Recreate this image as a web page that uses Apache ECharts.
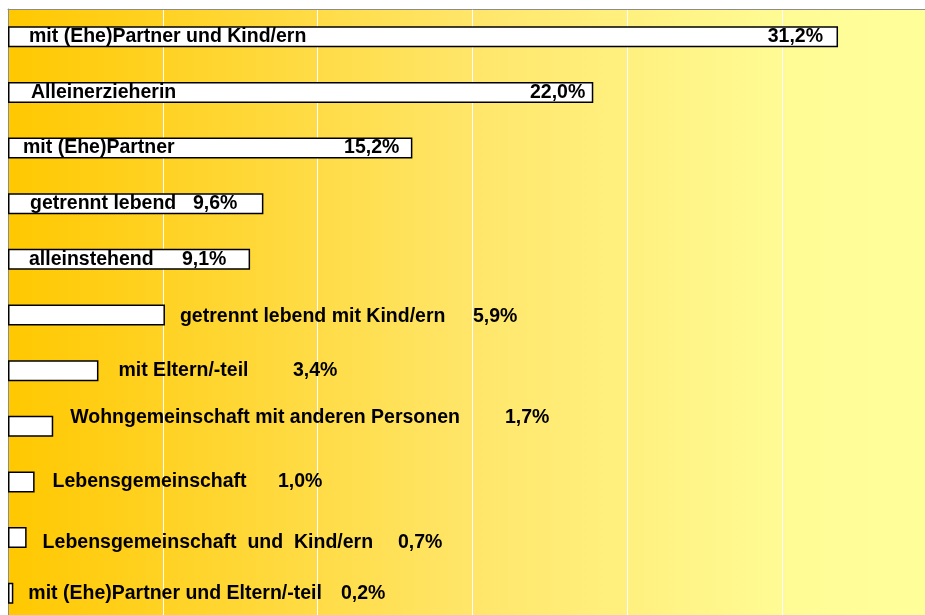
<!DOCTYPE html>
<html><head><meta charset="utf-8">
<script src="https://cdn.jsdelivr.net/npm/echarts@6/dist/echarts.min.js"></script>
<style>html,body{margin:0;padding:0;background:#fff;overflow:hidden;width:925px;height:615px}#c{width:950px;height:630px}</style>
</head><body><div id="c"></div>
<script>
// Data
const categories = [
  'mit (Ehe)Partner und Kind/ern',
  'Alleinerzieherin',
  'mit (Ehe)Partner',
  'getrennt lebend',
  'alleinstehend',
  'getrennt lebend mit Kind/ern',
  'mit Eltern/-teil',
  'Wohngemeinschaft mit anderen Personen',
  'Lebensgemeinschaft',
  'Lebensgemeinschaft  und  Kind/ern',
  'mit (Ehe)Partner und Eltern/-teil'
];
const values = [31.2, 22.0, 15.2, 9.6, 9.1, 5.9, 3.4, 1.7, 1.0, 0.7, 0.2];

// Label layout (styling only)
const nameLayout = [
  {position:'insideLeft', distance:21, dy:0},
  {position:'insideLeft', distance:23, dy:0},
  {position:'insideLeft', distance:15, dy:0},
  {position:'insideLeft', distance:22, dy:0},
  {position:'insideLeft', distance:21, dy:0},
  {position:'right', distance:15, dy:2},
  {position:'right', distance:20, dy:0},
  {position:'right', distance:17, dy:-9},
  {position:'right', distance:18, dy:0},
  {position:'right', distance:16, dy:5},
  {position:'right', distance:15, dy:0}
];
const valueLayout = [
  {position:'insideRight', distance:15, dy:0},
  {position:'insideRight', distance:8, dy:0},
  {position:'insideRight', distance:13, dy:0},
  {x:185, dy:0},
  {x:174, dy:0},
  {x:465, dy:2},
  {x:285, dy:0},
  {x:497, dy:-9},
  {x:270, dy:0},
  {x:390, dy:5},
  {x:333, dy:0}
];

const fmt = v => v.toFixed(1).replace('.', ',') + '%';
const font = {fontFamily:'"Liberation Sans", Arial, sans-serif', fontWeight:'bold', fontSize:19.5, color:'#000'};

const nameData = values.map((v,i)=>({
  value:v,
  label:Object.assign({show:true, formatter:categories[i], position:nameLayout[i].position,
    distance:nameLayout[i].distance, offset:[0,nameLayout[i].dy]}, font)
}));
const valData = values.map((v,i)=>{
  const L = valueLayout[i];
  const lab = Object.assign({show:true, formatter:fmt(v), offset:[0,L.dy]}, font);
  if (L.position) { lab.position = L.position; lab.distance = L.distance; }
  else { lab.position = [L.x, '50%']; lab.align='left'; lab.verticalAlign='middle'; }
  return {value:v, label:lab};
});

const chart = echarts.init(document.getElementById('c'), null, {renderer:'canvas'});
chart.setOption({
  animation:false,
  backgroundColor:'#ffffff',
  grid:{left:8, top:9, width:929, height:612, show:true, borderWidth:0,
    backgroundColor:new echarts.graphic.LinearGradient(0,0,1,0,[
      {offset:0, color:'#FFC800'},
      {offset:0.5, color:'#FFE66A'},
      {offset:0.85, color:'#FFFC96'},
      {offset:1, color:'#FFFF99'}
    ])},
  xAxis:{type:'value', position:'top', min:0, max:34.92, interval:5.82,
    axisLine:{show:true, lineStyle:{color:'#8c8c8c', width:1}},
    axisTick:{show:false}, axisLabel:{show:false},
    splitLine:{show:true, lineStyle:{color:'#ffffff', width:1}}},
  yAxis:{type:'category', data:categories, inverse:true,
    axisLine:{show:true, onZero:false, lineStyle:{color:'#8c8c8c', width:1}},
    axisTick:{show:false}, axisLabel:{show:false}, splitLine:{show:false}},
  series:[
    {type:'bar', data:nameData, barWidth:21, z:2,
      itemStyle:{color:'#ffffff', borderColor:'#000000', borderWidth:1.5}},
    {type:'bar', data:valData, barWidth:21, barGap:'-100%', z:3,
      itemStyle:{color:'rgba(0,0,0,0)', borderWidth:0}}
  ]
});
</script></body></html>
